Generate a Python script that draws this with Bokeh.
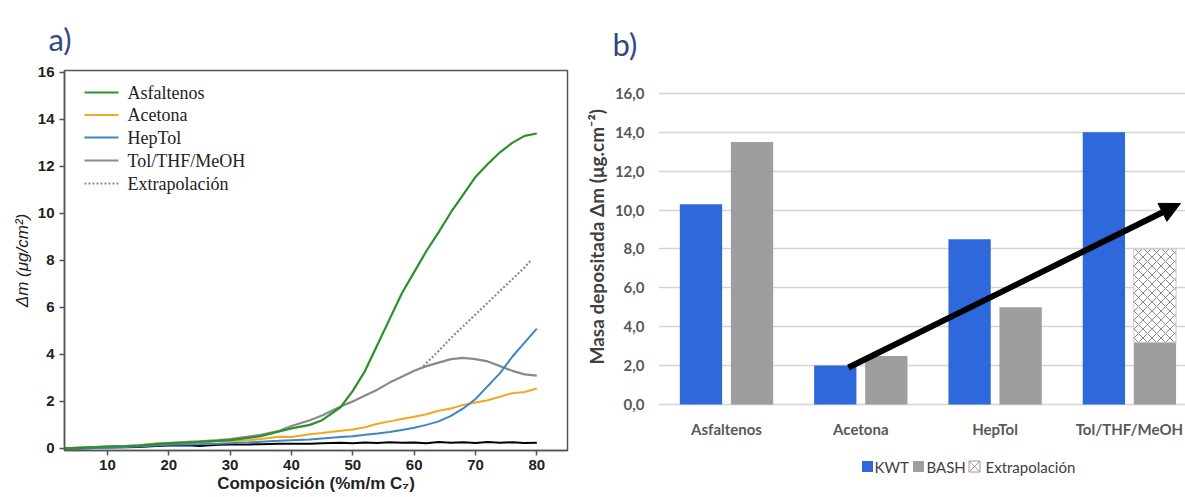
from bokeh.plotting import figure
from bokeh.models import Range1d, Arrow, NormalHead, FixedTicker
from bokeh.core.properties import value
from bokeh.layouts import row
from bokeh.embed import file_html
from bokeh.resources import INLINE

# ---------------- data: panel a) ----------------
comp = [3, 5, 8, 10, 13, 15, 18, 20, 23, 25, 28, 30, 33, 35, 38, 40, 43, 45, 48, 50,
        52, 54, 56, 58, 60, 62, 64, 66, 68, 70, 72, 74, 76, 78, 80]
asfaltenos = [0.0, 0.02, 0.05, 0.08, 0.1, 0.12, 0.18, 0.22, 0.25, 0.28, 0.32, 0.35, 0.45, 0.52, 0.72, 0.85,
              1.0, 1.2, 1.75, 2.45, 3.3, 4.4, 5.5, 6.6, 7.5, 8.4, 9.2, 10.05, 10.8, 11.55, 12.1, 12.6,
              13.0, 13.3, 13.4]
acetona = [0.0, 0.01, 0.03, 0.05, 0.08, 0.12, 0.2, 0.22, 0.22, 0.25, 0.3, 0.3, 0.35, 0.4, 0.5, 0.48,
           0.6, 0.65, 0.75, 0.8, 0.9, 1.05, 1.15, 1.25, 1.35, 1.45, 1.6, 1.7, 1.85, 1.95, 2.05, 2.2,
           2.35, 2.4, 2.55]
heptol = [0.0, 0.0, 0.02, 0.04, 0.06, 0.08, 0.12, 0.15, 0.17, 0.18, 0.2, 0.22, 0.25, 0.28, 0.32, 0.35,
          0.38, 0.42, 0.48, 0.52, 0.58, 0.63, 0.7, 0.78, 0.88, 1.0, 1.15, 1.38, 1.7, 2.1, 2.65, 3.2,
          3.9, 4.5, 5.1]
tol_thf_meoh = [0.0, 0.02, 0.05, 0.08, 0.1, 0.13, 0.2, 0.22, 0.28, 0.3, 0.35, 0.4, 0.5, 0.58, 0.75, 0.95,
                1.2, 1.4, 1.78, 2.0, 2.25, 2.5, 2.8, 3.05, 3.3, 3.5, 3.65, 3.8, 3.85, 3.8, 3.7, 3.5,
                3.3, 3.15, 3.1]
blanco = [0.0, 0.0, 0.02, 0.04, 0.05, 0.06, 0.1, 0.12, 0.13, 0.1, 0.15, 0.16, 0.17, 0.18, 0.2, 0.2,
          0.2, 0.22, 0.24, 0.22, 0.25, 0.23, 0.26, 0.24, 0.25, 0.22, 0.27, 0.24, 0.26, 0.23, 0.27, 0.24,
          0.26, 0.23, 0.24]
extrap_comp = [61.5, 64, 66, 68, 70, 72, 74, 76, 78, 79]
extrap_vals = [3.5, 4.15, 4.7, 5.2, 5.7, 6.2, 6.7, 7.2, 7.7, 8.0]
xticks_a = [10, 20, 30, 40, 50, 60, 70, 80]
yticks_a = [0, 2, 4, 6, 8, 10, 12, 14, 16]
legend_a = ["Asfaltenos", "Acetona", "HepTol", "Tol/THF/MeOH", "Extrapolación"]

# ---------------- data: panel b) ----------------
categories = ["Asfaltenos", "Acetona", "HepTol", "Tol/THF/MeOH"]
kwt = [10.3, 2.0, 8.5, 14.0]
bash = [13.5, 2.5, 5.0, 3.2]
extrap_category = "Tol/THF/MeOH"
extrap_top = 8.0
yticks_b = [0, 2, 4, 6, 8, 10, 12, 14, 16]
ytick_labels_b = ["0,0", "2,0", "4,0", "6,0", "8,0", "10,0", "12,0", "14,0", "16,0"]
legend_b = ["KWT", "BASH", "Extrapolación"]
arrow_start = (0.908, 1.9)
arrow_end = (3.38, 10.34)

TITLE_COLOR = "#2f4a7f"

# ================= panel a =================
XA0, XA1, YA0, YA1 = 3.0, 85.0, -0.09, 16.08
FA_L, FA_T, FA_W, FA_H = 64, 70, 503, 380          # frame box in px
WA = 580
p1 = figure(width=WA, height=497, output_backend="svg", toolbar_location=None,
            x_range=Range1d(XA0, XA1), y_range=Range1d(YA0, YA1),
            min_border_left=FA_L, min_border_right=WA - FA_L - FA_W, min_border_top=FA_T,
            min_border_bottom=497 - FA_T - FA_H, title="a)")
p1.title.text_font = "Lato"
p1.title.text_font_size = "31px"
p1.title.text_font_style = "normal"
p1.title.text_color = TITLE_COLOR
p1.title.offset = -16
p1.title.standoff = 26

p1.xgrid.visible = False
p1.ygrid.visible = False
p1.outline_line_color = "#555555"
p1.outline_line_width = 1.5

p1.xaxis.ticker = FixedTicker(ticks=xticks_a)
p1.yaxis.ticker = FixedTicker(ticks=yticks_a)
for ax in (p1.xaxis[0], p1.yaxis[0]):
    ax.major_tick_in = 0
    ax.major_tick_out = 5
    ax.minor_tick_line_color = None
    ax.axis_line_color = "#555555"
    ax.axis_line_width = 1.5
    ax.major_tick_line_color = "#555555"
    ax.major_tick_line_width = 1.5
    ax.major_label_text_font = "Liberation Sans"
    ax.major_label_text_font_style = "bold"
    ax.major_label_text_font_size = "15px"
    ax.major_label_text_color = "#222222"
    ax.axis_label_text_color = "#222222"
    ax.axis_label_text_font = "Liberation Sans"
p1.xaxis.major_label_standoff = 4
p1.yaxis.major_label_standoff = 5
p1.xaxis.axis_label = "Composición (%m/m C₇)"
p1.xaxis.axis_label_text_font_style = "bold"
p1.xaxis.axis_label_text_font_size = "17px"
p1.xaxis.axis_label_standoff = 1
p1.yaxis.axis_label = "Δm (μg/cm²)"
p1.yaxis.axis_label_text_font_style = "italic"
p1.yaxis.axis_label_text_font_size = "17px"
p1.yaxis.axis_label_standoff = 3

styles_a = [dict(line_color="#2a922a", line_width=2.2),
            dict(line_color="#f7a622", line_width=2),
            dict(line_color="#3f84c4", line_width=2),
            dict(line_color="#8a8a8a", line_width=2.2),
            dict(line_color="#8c8c8c", line_width=2.2, line_dash="2 2")]
p1.line(extrap_comp, extrap_vals, **styles_a[4])
p1.line(comp, tol_thf_meoh, **styles_a[3])
p1.line(comp, blanco, line_color="black", line_width=2)
p1.line(comp, acetona, **styles_a[1])
p1.line(comp, heptol, **styles_a[2])
p1.line(comp, asfaltenos, **styles_a[0])


def ax_px(px):
    return XA0 + (px - FA_L) * (XA1 - XA0) / FA_W


def ay_px(py):
    return YA1 - (py - FA_T) * (YA1 - YA0) / FA_H


# legend of panel a (glyphs placed in frame pixels)
leg_rows = [92, 114.5, 137, 160, 183]
for lab_y, st in zip(leg_rows, styles_a):
    p1.line([ax_px(84), ax_px(118)], [ay_px(lab_y), ay_px(lab_y)], **st)
p1.text(x=[ax_px(127)] * len(legend_a), y=[ay_px(r) for r in leg_rows], text=legend_a,
        text_font=value("Liberation Serif"), text_font_size="18px", text_color="#222222",
        text_baseline="middle", text_align="left")

# ================= panel b =================
PXU_B = 134.3        # px per category
PYU_B = 19.44        # px per unit
X0_PX_B = 726        # px of first category
Y0_PX_B = 404        # px of value 0
FB_L, FB_T, FB_B = 658, 85, 480
WB = 1185 - WA
XB0 = (FB_L - X0_PX_B) / PXU_B
XB1 = (1185 - X0_PX_B) / PXU_B
YB1 = (Y0_PX_B - FB_T) / PYU_B
YB0 = (Y0_PX_B - FB_B) / PYU_B
p2 = figure(width=WB, height=497, output_backend="svg", toolbar_location=None,
            x_range=Range1d(XB0, XB1), y_range=Range1d(YB0, YB1),
            min_border_left=FB_L - WA, min_border_right=0, min_border_top=FB_T,
            min_border_bottom=497 - FB_B, title="b)")
p2.title.text_font = "Lato"
p2.title.text_font_size = "31px"
p2.title.text_font_style = "normal"
p2.title.text_color = TITLE_COLOR
p2.title.offset = -46
p2.title.standoff = 45

for pp in (p1, p2):
    try:
        pp.frame_align = False
    except Exception:
        pass

p2.outline_line_color = None
p2.xgrid.visible = False
p2.ygrid.ticker = FixedTicker(ticks=yticks_b)
p2.ygrid.grid_line_color = "#d4d4d4"
p2.ygrid.grid_line_width = 1.5

p2.xaxis.visible = False
yax = p2.yaxis[0]
yax.ticker = FixedTicker(ticks=yticks_b)
yax.major_label_overrides = {t: lab for t, lab in zip(yticks_b, ytick_labels_b)}
yax.axis_line_color = None
yax.major_tick_line_color = None
yax.major_tick_in = 0
yax.major_tick_out = 0
yax.minor_tick_line_color = None
yax.minor_tick_out = 0
yax.major_label_text_font = "Lato"
yax.major_label_text_font_style = "bold"
yax.major_label_text_font_size = "15px"
yax.major_label_text_color = "#595959"
yax.major_label_standoff = 14
yax.axis_label = "\u00a0" * 20 + "Masa depositada Δm (μg.cm⁻²)"
yax.axis_label_text_font = "Lato"
yax.axis_label_text_font_style = "bold"
yax.axis_label_text_font_size = "19px"
yax.axis_label_text_color = "#404040"
yax.axis_label_standoff = 4

xs = list(range(len(categories)))
off = 0.19
bw = 0.315
KWT_COLOR = "#2f68da"
BASH_COLOR = "#9e9e9e"
p2.vbar(x=[x - off for x in xs], top=kwt, bottom=0, width=bw, fill_color=KWT_COLOR, line_color=None)
p2.vbar(x=[x + off for x in xs], top=bash, bottom=0, width=bw, fill_color=BASH_COLOR, line_color=None)
ei = categories.index(extrap_category)
p2.vbar(x=[xs[ei] + off], bottom=[bash[ei]], top=[extrap_top], width=bw,
        fill_color="white", hatch_pattern="diagonal_cross", hatch_color="#8a8a8a",
        hatch_scale=9, hatch_weight=1, line_color="#c8c8c8", line_width=1)

p2.add_layout(Arrow(end=NormalHead(size=20, fill_color="black", line_color="black"),
                    x_start=arrow_start[0], y_start=arrow_start[1],
                    x_end=arrow_end[0], y_end=arrow_end[1],
                    line_width=6, line_color="black"))

# category labels under the bars
cat_y = (Y0_PX_B - 428) / PYU_B
p2.text(x=xs, y=[cat_y] * len(xs), text=categories, text_font=value("Lato"),
        text_font_style="bold", text_font_size="15px", text_color="#595959",
        text_align="center", text_baseline="middle")

# legend of panel b (glyphs placed in px)
def bx_px(px):
    return (px - X0_PX_B) / PXU_B

leg_y = (Y0_PX_B - 466) / PYU_B
p2.scatter(x=[bx_px(867), bx_px(918)], y=[leg_y, leg_y], marker="square", size=11,
           fill_color=[KWT_COLOR, BASH_COLOR], line_color=None)
p2.scatter(x=[bx_px(974)], y=[leg_y], marker="square_x", size=11, fill_color="white",
           line_color="#b88e8e", line_width=1)
p2.text(x=[bx_px(874), bx_px(926), bx_px(985)], y=[leg_y] * 3, text=legend_b,
        text_font=value("Lato"), text_font_size="15px", text_color="#404040",
        text_align="left", text_baseline="middle")

layout = row(p1, p2)
open("out.html", "w").write(file_html(layout, INLINE))
